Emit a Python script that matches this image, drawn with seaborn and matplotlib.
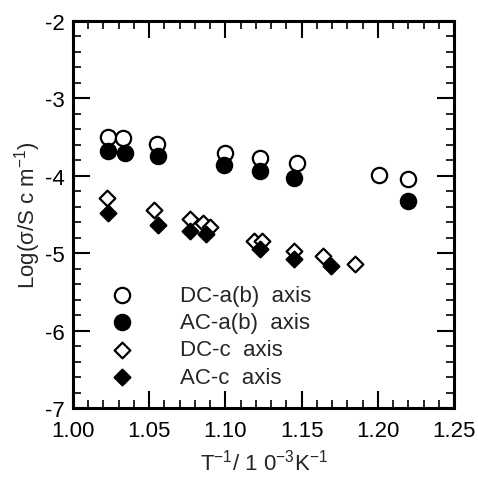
import matplotlib
matplotlib.use("Agg")
import matplotlib.pyplot as plt
import seaborn as sns
import pandas as pd
from matplotlib.ticker import MultipleLocator, FormatStrFormatter

sns.set_style("ticks")
plt.rcParams['font.family'] = ['Liberation Sans', 'DejaVu Sans']
plt.rcParams['axes.unicode_minus'] = False
plt.rcParams['mathtext.default'] = 'regular'

# Data
dc_ab_x = [1.023, 1.033, 1.055, 1.100, 1.123, 1.147, 1.201, 1.220]
dc_ab_y = [-3.50, -3.51, -3.59, -3.71, -3.77, -3.83, -3.99, -4.04]
ac_ab_x = [1.023, 1.034, 1.056, 1.099, 1.123, 1.145, 1.220]
ac_ab_y = [-3.68, -3.71, -3.74, -3.86, -3.94, -4.03, -4.33]
dc_c_x = [1.022, 1.053, 1.077, 1.085, 1.090, 1.119, 1.124, 1.145, 1.164, 1.185]
dc_c_y = [-4.29, -4.44, -4.56, -4.61, -4.66, -4.84, -4.84, -4.97, -5.04, -5.14]
ac_c_x = [1.023, 1.056, 1.077, 1.087, 1.123, 1.145, 1.169]
ac_c_y = [-4.48, -4.64, -4.71, -4.75, -4.95, -5.07, -5.17]
labels = ["DC-a(b)  axis", "AC-a(b)  axis", "DC-c  axis", "AC-c  axis"]

fig = plt.figure(figsize=(4.78, 4.81), dpi=100)
ax = fig.add_axes([0.1527, 0.1497, 0.7971, 0.8046])

series = [
    (dc_ab_x, dc_ab_y, 'o', 'white', 11, labels[0]),
    (ac_ab_x, ac_ab_y, 'o', 'black', 11, labels[1]),
    (dc_c_x, dc_c_y, 'D', 'white', 8, labels[2]),
    (ac_c_x, ac_c_y, 'D', 'black', 8, labels[3]),
]
for xs, ys, m, fc, ms, lab in series:
    df = pd.DataFrame({'x': xs, 'y': ys})
    sns.scatterplot(data=df, x='x', y='y', ax=ax, marker=m, s=ms**2,
                    facecolor=fc, edgecolor='black', linewidth=1.6,
                    label=lab, zorder=3)

ax.set_xlim(1.00, 1.25)
ax.set_ylim(-7, -2)
ax.xaxis.set_major_locator(MultipleLocator(0.05))
ax.xaxis.set_minor_locator(MultipleLocator(0.01))
ax.yaxis.set_major_locator(MultipleLocator(1))
ax.yaxis.set_minor_locator(MultipleLocator(0.2))
ax.xaxis.set_major_formatter(FormatStrFormatter('%.2f'))
ax.yaxis.set_major_formatter(FormatStrFormatter('%d'))
ax.tick_params(which='both', direction='in', top=True, right=True,
               labelsize=16, color='black', labelcolor='black')
ax.tick_params(which='major', length=12, width=1.5, pad=6)
ax.tick_params(axis='x', which='major', pad=9)
ax.tick_params(which='minor', length=6, width=1.2)
for side, sp in ax.spines.items():
    sp.set_visible(True)
    sp.set_color('black')
    sp.set_linewidth(2.2)

ax.set_xlabel('T$^{-1}$/ 1 0$^{-3}$K$^{-1}$', fontsize=16, labelpad=5)
ax.set_ylabel('Log(σ/S c m$^{-1}$)', fontsize=16, labelpad=1.5)

leg = ax.legend(loc='upper left', bbox_to_anchor=(0.099, 0.318), frameon=False,
                fontsize=16, borderpad=0, handlelength=1.0, handletextpad=2.1,
                labelspacing=0.28, borderaxespad=0)

fig.savefig('out.png', dpi=100)
